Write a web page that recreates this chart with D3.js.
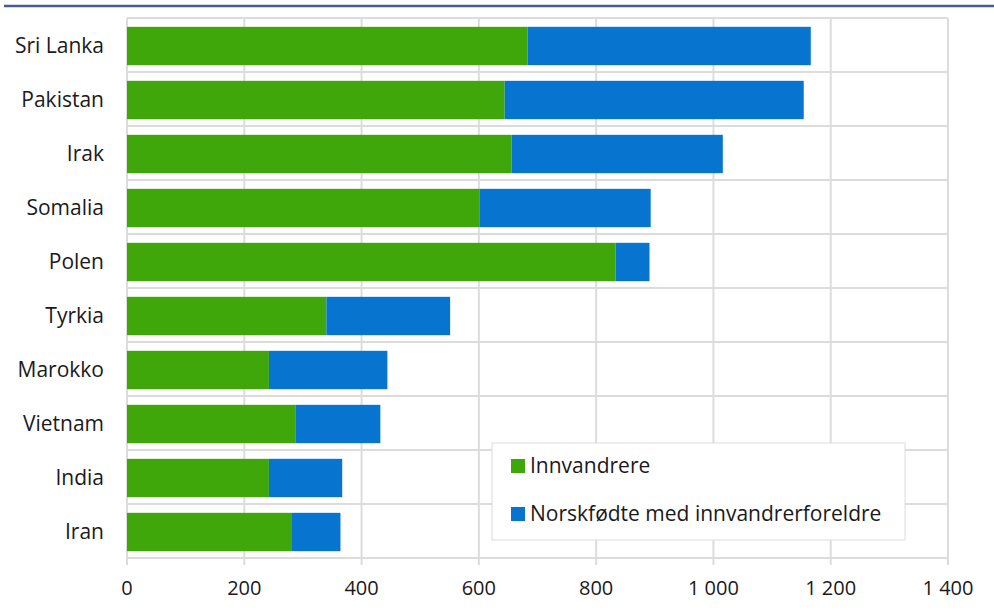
<!DOCTYPE html>
<html><head><meta charset="utf-8">
<script src="https://cdn.jsdelivr.net/npm/d3@7"></script>
<style>body{margin:0;background:#fff}svg{display:block}text{font-family:"Open Sans",sans-serif;fill:#1a1a1a}</style>
</head><body><svg id="c" width="994" height="610"></svg>
<script>
const categories = ["Sri Lanka","Pakistan","Irak","Somalia","Polen","Tyrkia","Marokko","Vietnam","India","Iran"];
const innvandrere = [683, 644, 656, 601, 833, 340, 242, 287, 242, 280];
const norskfodte = [483, 510, 360, 292, 58, 211, 202, 145, 125, 84];
const seriesNames = ["Innvandrere","Norskfødte med innvandrerforeldre"];
const colors = ["#3fa70a","#0775d0"];
const tickValues = [0,200,400,600,800,1000,1200,1400];

const svg = d3.select("#c");
const m = {l:127, r:948, t:18, b:558};
const x = d3.scaleLinear().domain([0,1400]).range([m.l,m.r]);
const y = d3.scaleBand().domain(categories).range([m.t+1,m.b+1]).paddingInner(0.29).paddingOuter(0.145);
const fmt = v => d3.format(",")(v).replace(/,/g," ");

svg.append("line").attr("x1",4).attr("x2",994).attr("y1",6).attr("y2",6).attr("stroke","#475c8c").attr("stroke-width",2.5);

const g = svg.append("g");
g.selectAll(".vg").data(tickValues).join("line")
 .attr("x1",d=>x(d)).attr("x2",d=>x(d)).attr("y1",m.t).attr("y2",m.b+7)
 .attr("stroke","#dcdcdc").attr("stroke-width",2);
const bounds = d3.range(categories.length+1).map(i => m.t + i*(m.b-m.t)/categories.length);
g.selectAll(".hg").data(bounds).join("line")
 .attr("x1",m.l).attr("x2",m.r).attr("y1",d=>d).attr("y2",d=>d)
 .attr("stroke","#dcdcdc").attr("stroke-width",2);

const stack = d3.stack().keys([0,1])(categories.map((c,i)=>({0:innvandrere[i],1:norskfodte[i],cat:c})));
stack.forEach((s,si)=>{
  g.selectAll(".b"+si).data(s).join("rect")
   .attr("x",d=>x(d[0])).attr("width",d=>x(d[1])-x(d[0]))
   .attr("y",d=>y(d.data.cat)).attr("height",y.bandwidth())
   .attr("fill",colors[si]);
});

g.selectAll(".cl").data(categories).join("text")
 .attr("x",104).attr("y",d=>y(d)+y.bandwidth()/2).attr("dy","0.35em")
 .attr("text-anchor","end").attr("font-size",21).text(d=>d);
g.selectAll(".tl").data(tickValues).join("text")
 .attr("x",d=>x(d)).attr("y",595).attr("text-anchor","middle").attr("font-size",20).text(fmt);

const lg = svg.append("g");
lg.append("rect").attr("x",492).attr("y",443).attr("width",413).attr("height",97)
 .attr("fill","#fff").attr("stroke","#dcdcdc").attr("stroke-width",1);
seriesNames.forEach((n,i)=>{
  const cy = 466 + i*48;
  lg.append("rect").attr("x",511).attr("y",cy-7).attr("width",14).attr("height",14).attr("fill",colors[i]);
  lg.append("text").attr("x",530).attr("y",cy).attr("dy","0.35em").attr("font-size",21).text(n);
});
</script></body></html>
